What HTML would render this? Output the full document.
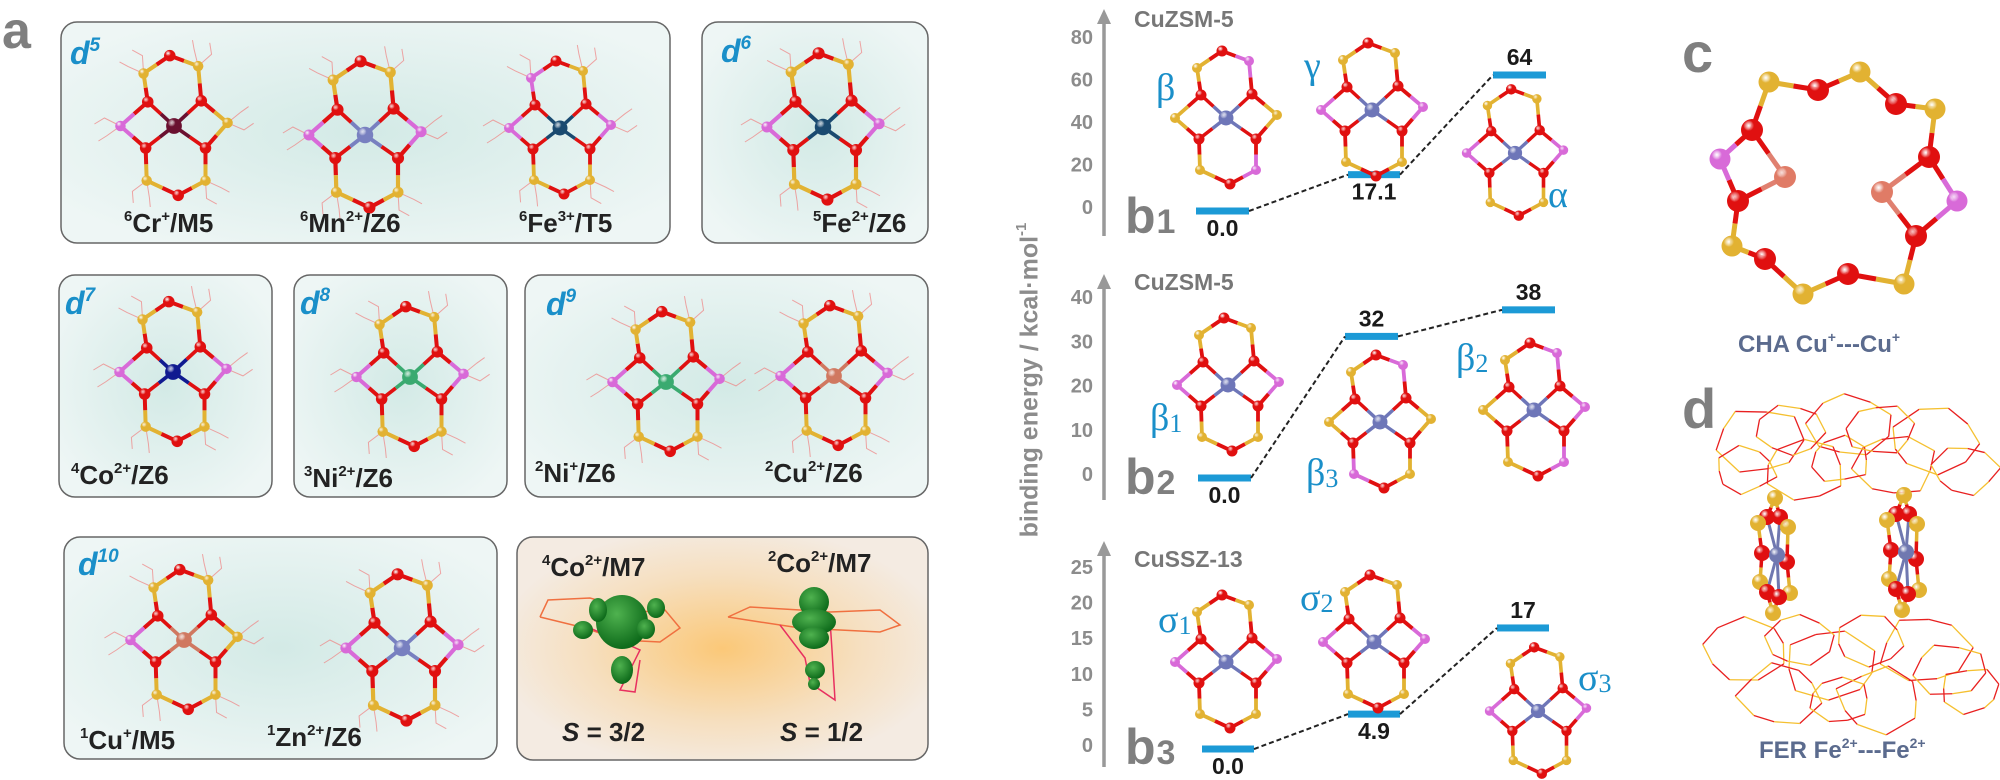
<!DOCTYPE html>
<html><head><meta charset="utf-8">
<style>
html,body{margin:0;padding:0;background:#fff;}
svg{display:block;font-family:"Liberation Sans",sans-serif;}
.lbl{font-weight:bold;font-size:26px;fill:#222;}
.dl{font-weight:bold;font-style:italic;font-size:32px;fill:#1a8fc9;}
.tick{font-weight:bold;font-size:20px;fill:#8c8c8c;}
.val{font-weight:bold;font-size:23px;fill:#1a1a1a;}
.greek{font-family:"Liberation Serif",serif;font-size:38px;fill:#1a8fc9;}
.pl{font-weight:bold;fill:#7f7f7f;}
.zt{font-weight:bold;font-size:23px;fill:#777;}
</style></head>
<body>
<svg id="fig" width="2000" height="780" viewBox="0 0 2000 780" xmlns="http://www.w3.org/2000/svg">
<defs>
<radialGradient id="tealbg" cx="50%" cy="50%" r="60%"><stop offset="0" stop-color="#d3eae6"/><stop offset="1" stop-color="#eef6f5"/></radialGradient>
<radialGradient id="orbg" cx="50%" cy="50%" r="55%"><stop offset="0" stop-color="#fbc878"/><stop offset="0.6" stop-color="#f6dfbf"/><stop offset="1" stop-color="#f4ebe2"/></radialGradient>
<radialGradient id="gblob" cx="40%" cy="35%" r="65%"><stop offset="0" stop-color="#4fb24f"/><stop offset="1" stop-color="#0d6a1a"/></radialGradient>
</defs>
<g id="panelA">
<text class="pl" x="2" y="48" font-size="52">a</text>
<rect x="61" y="22" width="609" height="221" rx="16" fill="url(#tealbg)" stroke="#666" stroke-width="1.5"/>
<rect x="702" y="22" width="226" height="221" rx="16" fill="url(#tealbg)" stroke="#666" stroke-width="1.5"/>
<rect x="59" y="275" width="213" height="222" rx="16" fill="url(#tealbg)" stroke="#666" stroke-width="1.5"/>
<rect x="294" y="275" width="213" height="222" rx="16" fill="url(#tealbg)" stroke="#666" stroke-width="1.5"/>
<rect x="525" y="275" width="403" height="222" rx="16" fill="url(#tealbg)" stroke="#666" stroke-width="1.5"/>
<rect x="64" y="537" width="433" height="222" rx="16" fill="url(#tealbg)" stroke="#666" stroke-width="1.5"/>
<rect x="517" y="537" width="411" height="223" rx="16" fill="url(#orbg)" stroke="#666" stroke-width="1.5"/>
<g id="mols"></g>
<text class="dl" x="70" y="64">d<tspan font-size="19" dy="-13">5</tspan></text>
<text class="dl" x="721" y="62">d<tspan font-size="19" dy="-13">6</tspan></text>
<text class="dl" x="65" y="314">d<tspan font-size="19" dy="-13">7</tspan></text>
<text class="dl" x="300" y="314">d<tspan font-size="19" dy="-13">8</tspan></text>
<text class="dl" x="546" y="315">d<tspan font-size="19" dy="-13">9</tspan></text>
<text class="dl" x="78" y="575">d<tspan font-size="19" dy="-13">10</tspan></text>
<text class="lbl" x="124" y="232"><tspan font-size="15" dy="-11">6</tspan><tspan dy="11">Cr</tspan><tspan font-size="15" dy="-11">+</tspan><tspan dy="11">/M5</tspan></text>
<text class="lbl" x="300" y="232"><tspan font-size="15" dy="-11">6</tspan><tspan dy="11">Mn</tspan><tspan font-size="15" dy="-11">2+</tspan><tspan dy="11">/Z6</tspan></text>
<text class="lbl" x="519" y="232"><tspan font-size="15" dy="-11">6</tspan><tspan dy="11">Fe</tspan><tspan font-size="15" dy="-11">3+</tspan><tspan dy="11">/T5</tspan></text>
<text class="lbl" x="813" y="232"><tspan font-size="15" dy="-11">5</tspan><tspan dy="11">Fe</tspan><tspan font-size="15" dy="-11">2+</tspan><tspan dy="11">/Z6</tspan></text>
<text class="lbl" x="71" y="484"><tspan font-size="15" dy="-11">4</tspan><tspan dy="11">Co</tspan><tspan font-size="15" dy="-11">2+</tspan><tspan dy="11">/Z6</tspan></text>
<text class="lbl" x="304" y="487"><tspan font-size="15" dy="-11">3</tspan><tspan dy="11">Ni</tspan><tspan font-size="15" dy="-11">2+</tspan><tspan dy="11">/Z6</tspan></text>
<text class="lbl" x="535" y="482"><tspan font-size="15" dy="-11">2</tspan><tspan dy="11">Ni</tspan><tspan font-size="15" dy="-11">+</tspan><tspan dy="11">/Z6</tspan></text>
<text class="lbl" x="765" y="482"><tspan font-size="15" dy="-11">2</tspan><tspan dy="11">Cu</tspan><tspan font-size="15" dy="-11">2+</tspan><tspan dy="11">/Z6</tspan></text>
<text class="lbl" x="80" y="749"><tspan font-size="15" dy="-11">1</tspan><tspan dy="11">Cu</tspan><tspan font-size="15" dy="-11">+</tspan><tspan dy="11">/M5</tspan></text>
<text class="lbl" x="267" y="746"><tspan font-size="15" dy="-11">1</tspan><tspan dy="11">Zn</tspan><tspan font-size="15" dy="-11">2+</tspan><tspan dy="11">/Z6</tspan></text>
<g id="spin">
<polyline points="540,617 548,600 590,598 640,612 665,610 680,628 660,642 620,640 585,628 540,617" fill="none" stroke="#f07040" stroke-width="1.5"/>
<polyline points="590,628 640,650 620,690 635,692 640,660" fill="none" stroke="#e83060" stroke-width="1.5"/>
<polyline points="728,617 750,607 800,610 830,612 880,610 900,625 880,632 840,630 800,628 760,622 728,617" fill="none" stroke="#f07040" stroke-width="1.5"/>
<polyline points="780,625 805,658 810,683 835,700 832,650 830,620" fill="none" stroke="#e83060" stroke-width="1.5"/>
<ellipse cx="622" cy="622" rx="26" ry="27" fill="url(#gblob)"/>
<ellipse cx="598" cy="610" rx="9" ry="12" fill="url(#gblob)"/>
<ellipse cx="646" cy="629" rx="9" ry="10" fill="url(#gblob)"/>
<ellipse cx="656" cy="608" rx="9" ry="10" fill="url(#gblob)"/>
<ellipse cx="583" cy="630" rx="10" ry="9" fill="url(#gblob)"/>
<ellipse cx="622" cy="670" rx="11" ry="14" fill="url(#gblob)"/>
<ellipse cx="814" cy="602" rx="15" ry="15" fill="url(#gblob)"/>
<ellipse cx="814" cy="622" rx="22" ry="13" fill="url(#gblob)"/>
<ellipse cx="814" cy="638" rx="15" ry="11" fill="url(#gblob)"/>
<ellipse cx="815" cy="670" rx="10" ry="9" fill="url(#gblob)"/>
<ellipse cx="814" cy="684" rx="6" ry="6" fill="url(#gblob)"/>
</g>
<text class="lbl" x="542" y="576"><tspan font-size="15" dy="-11">4</tspan><tspan dy="11">Co</tspan><tspan font-size="15" dy="-11">2+</tspan><tspan dy="11">/M7</tspan></text>
<text class="lbl" x="768" y="572"><tspan font-size="15" dy="-11">2</tspan><tspan dy="11">Co</tspan><tspan font-size="15" dy="-11">2+</tspan><tspan dy="11">/M7</tspan></text>
<text class="lbl" x="562" y="741" font-size="30"><tspan font-style="italic">S</tspan> = 3/2</text>
<text class="lbl" x="780" y="741" font-size="30"><tspan font-style="italic">S</tspan> = 1/2</text>
</g>
<g id="panelB">
<text x="1031" y="380" transform="rotate(-90 1031 380)" text-anchor="middle" dominant-baseline="middle" font-weight="bold" font-size="25" fill="#8c8c8c">binding energy / kcal·mol<tspan font-size="15" dy="-9">-1</tspan></text>
<g id="chart"></g>
</g>
<g id="panelC">
<text class="pl" x="1682" y="72" font-size="56">c</text>
<g id="cha"></g>
<text x="1738" y="352" font-weight="bold" font-size="24" fill="#5b6b8e">CHA Cu<tspan font-size="14" dy="-10">+</tspan><tspan dy="10">---Cu</tspan><tspan font-size="14" dy="-10">+</tspan></text>
</g>
<g id="panelD">
<text class="pl" x="1682" y="428" font-size="56">d</text>
<g id="fer"></g>
<text x="1759" y="758" font-weight="bold" font-size="24" fill="#5b6b8e">FER Fe<tspan font-size="14" dy="-10">2+</tspan><tspan dy="10">---Fe</tspan><tspan font-size="14" dy="-10">2+</tspan></text>
</g>
</svg>
<script>
// ---- chart data (panel b) ----
const b1Values = [0.0, 17.1, 64];
const b2Values = [0.0, 32, 38];
const b3Values = [0.0, 4.9, 17];
const b1Labels = ["0.0", "17.1", "64"];
const b2Labels = ["0.0", "32", "38"];
const b3Labels = ["0.0", "4.9", "17"];
const b1Ticks = [0, 20, 40, 60, 80];
const b2Ticks = [0, 10, 20, 30, 40];
const b3Ticks = [0, 5, 10, 15, 20, 25];

const NS = "http://www.w3.org/2000/svg";
function mk(tag, attrs, parent) {
  const e = document.createElementNS(NS, tag);
  for (const k in attrs) e.setAttribute(k, attrs[k]);
  parent.appendChild(e);
  return e;
}
const defs = document.querySelector("defs");
const gradCache = {};
function grad(color) {
  if (gradCache[color]) return gradCache[color];
  const id = "g" + color.replace("#", "");
  const g = mk("radialGradient", { id: id, cx: "35%", cy: "30%", r: "70%" }, defs);
  mk("stop", { offset: "0", "stop-color": "#ffffff", "stop-opacity": "0.75" }, g);
  mk("stop", { offset: "0.35", "stop-color": color }, g);
  mk("stop", { offset: "1", "stop-color": color, "stop-opacity": "1" }, g);
  gradCache[color] = "url(#" + id + ")";
  return gradCache[color];
}
const COL = { O: "#e01010", Y: "#e2b232", P: "#d86ad8" };
const RAD = { O: 5.5, Y: 5, P: 5 };

const atomsT = {
  Otl: [-25, -23, "O"], Otr: [26, -24, "O"], Obl: [-27, 21, "O"], Obr: [30, 21, "O"],
  Tl: [-51, 0, "P"], Tr: [51, -3, "P"], Ytl: [-29, -50, "Y"], Ytr: [23, -57, "Y"],
  Otop: [-4, -67, "O"], Ybl: [-26, 52, "Y"], Ybr: [30, 52, "Y"], Obot: [4, 66, "O"]
};
const bondsT = [["Otl","Ytl"],["Ytl","Otop"],["Otop","Ytr"],["Ytr","Otr"],["Otl","Tl"],["Tl","Obl"],
  ["Otr","Tr"],["Tr","Obr"],["Obl","Ybl"],["Ybl","Obot"],["Obot","Ybr"],["Ybr","Obr"]];

function molecule(parent, cx, cy, s, metal, name, terminals, types) {
  const g = mk("g", {}, parent);
  
  
  const A = {};
  for (const k in atomsT) {
    const a = atomsT[k];
    A[k] = [cx + a[0] * s, cy + a[1] * s, (types && types[k]) || a[2]];
  }
  if (terminals) {
    ["Tl","Tr","Ytl","Ytr","Ybl","Ybr"].forEach(function (k) {
      const p = A[k];
      const dx = p[0] - cx, dy = p[1] - cy, L = Math.hypot(dx, dy);
      const ux = dx / L, uy = dy / L;
      mk("polyline", { points: p[0] + "," + p[1] + " " + (p[0] + ux * 16 - uy * 8) + "," + (p[1] + uy * 16 + ux * 8) + " " + (p[0] + ux * 26 - uy * 2) + "," + (p[1] + uy * 26 + ux * 2),
        fill: "none", stroke: "#f08080", "stroke-width": 1, opacity: 0.7 }, g);
      mk("polyline", { points: p[0] + "," + p[1] + " " + (p[0] + ux * 14 + uy * 10) + "," + (p[1] + uy * 14 - ux * 10) + " " + (p[0] + ux * 22 + uy * 15) + "," + (p[1] + uy * 22 - ux * 15),
        fill: "none", stroke: "#f08080", "stroke-width": 1, opacity: 0.7 }, g);
    });
  }
  bondsT.forEach(function (b) {
    const p = A[b[0]], q = A[b[1]];
    const mx = (p[0] + q[0]) / 2, my = (p[1] + q[1]) / 2;
    mk("line", { x1: p[0], y1: p[1], x2: mx, y2: my, stroke: COL[p[2]], "stroke-width": 3.8 * s }, g);
    mk("line", { x1: mx, y1: my, x2: q[0], y2: q[1], stroke: COL[q[2]], "stroke-width": 3.8 * s }, g);
  });
  ["Otl","Otr","Obl","Obr"].forEach(function (k) {
    const p = A[k];
    const mx = (p[0] + cx) / 2, my = (p[1] + cy) / 2;
    mk("line", { x1: p[0], y1: p[1], x2: mx, y2: my, stroke: COL.O, "stroke-width": 3.5 * s }, g);
    mk("line", { x1: mx, y1: my, x2: cx, y2: cy, stroke: metal, "stroke-width": 3.5 * s }, g);
  });
  for (const k in A) {
    const p = A[k];
    mk("circle", { cx: p[0], cy: p[1], r: RAD[p[2]] * s, fill: grad(COL[p[2]]) }, g);
  }
  mk("circle", { cx: cx, cy: cy, r: 7.5 * s, fill: grad(metal) }, g);
}

const mols = document.getElementById("mols");
molecule(mols, 174, 126, 1.05, "#6a1030", "mol-cr-m5", true, { Tr: "Y" });
molecule(mols, 365, 135, 1.1, "#7880c0", "mol-mn-z6", true);
molecule(mols, 560, 128, 1.0, "#1a4a70", "mol-fe3-t5", true, { Ytl: "P" });
molecule(mols, 823, 127, 1.1, "#1a4a70", "mol-fe2-z6", true);
molecule(mols, 173, 372, 1.05, "#101a90", "mol-co-z6", true);
molecule(mols, 410, 377, 1.05, "#3aaa70", "mol-ni2-z6", true);
molecule(mols, 666, 382, 1.05, "#3aaa70", "mol-ni1-z6", true);
molecule(mols, 834, 376, 1.05, "#d07860", "mol-cu2-z6", true);
molecule(mols, 184, 640, 1.05, "#d07860", "mol-cu1-m5", true, { Tr: "Y" });
molecule(mols, 402, 648, 1.1, "#7880c0", "mol-zn-z6", true);

// ---- panel b chart ----
const chart = document.getElementById("chart");
const AXIS_X = 1104;
const panels = [
  { vals: b1Values, labels: b1Labels, ticks: b1Ticks, y0: 207, y1: 37, tmax: 80, top: 9, bottom: 236, title: "CuZSM-5", tY: 19, sub: "1", bY: 233,
    cols: [[1196, 1249], [1348, 1400], [1493, 1546]], labAbove: [false, false, true] },
  { vals: b2Values, labels: b2Labels, ticks: b2Ticks, y0: 474, y1: 297, tmax: 40, top: 274, bottom: 500, title: "CuZSM-5", tY: 282, sub: "2", bY: 494,
    cols: [[1198, 1251], [1345, 1398], [1502, 1555]], labAbove: [false, true, true] },
  { vals: b3Values, labels: b3Labels, ticks: b3Ticks, y0: 745, y1: 567, tmax: 25, top: 541, bottom: 767, title: "CuSSZ-13", tY: 559, sub: "3", bY: 764,
    cols: [[1202, 1254], [1348, 1400], [1497, 1549]], labAbove: [false, false, true] }
];
panels.forEach(function (P, pi) {
  const yScale = function (v) { return P.y0 + (P.y1 - P.y0) * v / P.tmax; };
  const g = mk("g", {}, chart);
  
  
  const ax = mk("line", { x1: AXIS_X, y1: P.bottom, x2: AXIS_X, y2: P.top + 12, stroke: "#999", "stroke-width": 3.5 }, g);
  
  
  const ah = mk("polygon", { points: (AXIS_X - 7) + "," + (P.top + 15) + " " + AXIS_X + "," + P.top + " " + (AXIS_X + 7) + "," + (P.top + 15), fill: "#999" }, g);
  
  
  P.ticks.forEach(function (t) {
    const tx = mk("text", { x: 1093, y: yScale(t) + 7, "text-anchor": "end", class: "tick" }, g);
    tx.textContent = String(t);
    
    
  });
  const tt = mk("text", { x: 1134, y: P.tY + 8, class: "zt" }, g);
  tt.textContent = P.title;
  
  
  const bl = mk("text", { x: 1125, y: P.bY, class: "pl", "font-size": "50" }, g);
  bl.textContent = "b";
  const sb = mk("tspan", { "font-size": "34", dx: "1" }, bl);
  sb.textContent = P.sub;
  
  
  const pts = [];
  P.vals.forEach(function (v, i) {
    const y = yScale(v) + 4;
    const c = P.cols[i];
    pts.push([c[0], c[1], y]);
    const r = mk("rect", { x: c[0], y: y - 3.5, width: c[1] - c[0], height: 7, fill: "#1c9ad6" }, g);
    
    
    const lt = mk("text", { x: (c[0] + c[1]) / 2, y: P.labAbove[i] ? y - 10 : y + 25, "text-anchor": "middle", class: "val" }, g);
    lt.textContent = P.labels[i];
    
    
  });
  for (let i = 0; i < pts.length - 1; i++) {
    const dl = mk("line", { x1: pts[i][1], y1: pts[i][2], x2: pts[i + 1][0], y2: pts[i + 1][2], stroke: "#222", "stroke-width": 2, "stroke-dasharray": "5,3" }, g);
    
    
  }
});
molecule(chart, 1226, 118, 1.0, "#6e76b8", "mol-beta", false, { Tr: "Y", Tl: "Y", Ytr: "P", Ybr: "P" });
molecule(chart, 1372, 110, 1.0, "#6e76b8", "mol-gamma", false);
molecule(chart, 1515, 153, 0.95, "#6e76b8", "mol-alpha", false, { Ytl: "Y" });
molecule(chart, 1228, 385, 1.0, "#6e76b8", "mol-beta1", false);
molecule(chart, 1380, 422, 1.0, "#6e76b8", "mol-beta3", false, { Tl: "Y", Tr: "Y", Ytr: "P", Ybl: "P" });
molecule(chart, 1534, 410, 1.0, "#6e76b8", "mol-beta2", false, { Tl: "Y", Ytr: "P", Ybr: "P" });
molecule(chart, 1226, 662, 1.0, "#6e76b8", "mol-sigma1", false);
molecule(chart, 1374, 642, 1.0, "#6e76b8", "mol-sigma2", false);
molecule(chart, 1538, 711, 0.95, "#6e76b8", "mol-sigma3", false);
const greeks = [["β", "", 1156, 100], ["γ", "", 1304, 78], ["α", "", 1548, 207], ["β", "1", 1150, 430], ["β", "3", 1306, 485],
  ["β", "2", 1456, 370], ["σ", "1", 1158, 632], ["σ", "2", 1300, 610], ["σ", "3", 1578, 690]];
greeks.forEach(function (gk) {
  const t = mk("text", { x: gk[2], y: gk[3], class: "greek" }, chart);
  t.textContent = gk[0];
  if (gk[1]) { const s = mk("tspan", { "font-size": "26", dy: "2" }, t); s.textContent = gk[1]; }
  
  
});

// ---- panel c: CHA ring ----
const cha = document.getElementById("cha");
const ring = [[1769,82,"Y"],[1818,90,"O"],[1860,72,"Y"],[1896,104,"O"],[1935,109,"Y"],[1929,157,"O"],[1957,201,"P"],[1916,236,"O"],
  [1904,284,"Y"],[1848,274,"O"],[1803,294,"Y"],[1765,259,"O"],[1732,246,"Y"],[1738,201,"O"],[1720,159,"P"],[1752,130,"O"]];
const cus = [[1785,177,[13,15]],[1882,192,[5,7]]];
function half(p, q, w, par) {
  const mx = (p[0] + q[0]) / 2, my = (p[1] + q[1]) / 2;
  mk("line", { x1: p[0], y1: p[1], x2: mx, y2: my, stroke: p[3] || COL[p[2]], "stroke-width": w }, par);
  mk("line", { x1: mx, y1: my, x2: q[0], y2: q[1], stroke: q[3] || COL[q[2]], "stroke-width": w }, par);
}
for (let i = 0; i < ring.length; i++) half(ring[i], ring[(i + 1) % ring.length], 5, cha);
cus.forEach(function (c) { c[2].forEach(function (j) { half([c[0], c[1], "C", "#e08070"], ring[j], 5, cha); }); });
ring.forEach(function (a) {
  const c = mk("circle", { cx: a[0], cy: a[1], r: a[2] === "O" ? 11 : 10.5, fill: grad(COL[a[2]]) }, cha);
  
  
});
cus.forEach(function (c) {
  const e = mk("circle", { cx: c[0], cy: c[1], r: 11, fill: grad("#e07b66") }, cha);
  
  
});

// ---- panel d: FER framework ----
const fer = document.getElementById("fer");
const ringsD = [[1760,440,44],[1850,425,42],[1935,440,44],[1805,470,40],[1895,465,40],[1965,470,32],[1745,470,30],[1840,460,30],[1880,430,34],[1790,430,34],
  [1745,650,42],[1830,665,46],[1925,650,44],[1780,695,40],[1880,700,42],[1970,690,30],[1950,670,36],[1800,640,34],[1870,640,34],[1840,700,30]];
const jit = [1, 0.86, 1.1, 0.93, 1.06, 0.88, 1.12, 0.9, 1.02];
ringsD.forEach(function (r, ri) {
  const pts = [];
  for (let k = 0; k < 9; k++) {
    const a = (k / 9) * Math.PI * 2 + ri * 0.4;
    pts.push([r[0] + Math.cos(a) * r[2] * jit[k], r[1] + Math.sin(a) * r[2] * 0.75 * jit[(k + 3) % 9]]);
  }
  for (let k = 0; k < 9; k++) {
    const p = pts[k], q = pts[(k + 1) % 9];
    mk("line", { x1: p[0], y1: p[1], x2: q[0], y2: q[1], stroke: k % 2 ? "#f5c030" : "#e82020", "stroke-width": 1.3 }, fer);
  }
});
[[1777,555],[1906,552]].forEach(function (c) {
  const g = mk("g", {}, fer);
  
  
  const at = [[-2,-57,"Y"],[-10,-38,"O"],[3,-38,"O"],[-19,-32,"Y"],[11,-28,"Y"],[-15,-2,"O"],[10,7,"O"],[-17,27,"Y"],[13,38,"Y"],[-10,37,"O"],[2,42,"O"],[-4,58,"Y"]];
  const A = at.map(function (a) { return [c[0] + a[0], c[1] + a[1], a[2]]; });
  [[3,5],[5,7],[4,6],[6,8],[1,0],[2,0],[1,3],[2,4],[9,7],[10,8],[9,11],[10,11]].forEach(function (b) { half(A[b[0]], A[b[1]], 3.5, g); });
  [1,2,9,10].forEach(function (j) { mk("line", { x1: c[0], y1: c[1], x2: A[j][0], y2: A[j][1], stroke: "#7078b0", "stroke-width": 3 }, g); });
  A.forEach(function (a) { mk("circle", { cx: a[0], cy: a[1], r: 8, fill: grad(COL[a[2]]) }, g); });
  mk("circle", { cx: c[0], cy: c[1], r: 8, fill: grad("#7078b0") }, g);
});
</script>
</body></html>
